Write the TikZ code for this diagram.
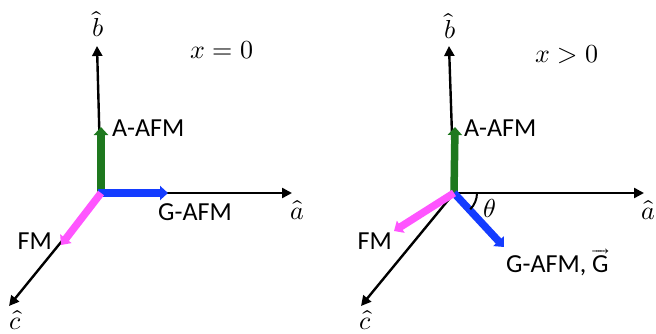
\documentclass[tikz,border=0pt]{standalone}
\usepackage{fontspec}
\usepackage{unicode-math}
\setmainfont{Carlito}
\setmathfont{Latin Modern Math}
\usetikzlibrary{arrows.meta}
\definecolor{agreen}{RGB}{30,120,30}
\definecolor{gblue}{RGB}{20,60,255}
\definecolor{fmpink}{RGB}{255,85,255}
\tikzset{
  axis/.style={line width=2.4pt,-{Triangle[length=10pt,width=10pt]}},
  spin/.style={line width=7.5pt,-{Triangle[length=8pt,width=14pt]}},
  lab/.style={font=\fontsize{26}{30}\selectfont,inner sep=0pt},
  mlab/.style={font=\fontsize{26}{30}\selectfont,inner sep=0pt}
}
\begin{document}
\begin{tikzpicture}[x=1pt,y=-1pt]
\useasboundingbox (0,0) rectangle (656,333);
% ---------- left panel ----------
\coordinate (O1) at (101,193);
\coordinate (b1) at (97,46);
\coordinate (a1) at (292,193);
\coordinate (c1) at (9,306);
\coordinate (g1) at (101,127);
\coordinate (G1) at (168,193);
\coordinate (f1) at (61,245);
\draw[axis] (O1) -- (b1);
\draw[axis] (O1) -- (a1);
\draw[axis] (O1) -- (c1);
\draw[spin,agreen] (O1) -- (g1);
\draw[spin,gblue] ([xshift=-3.5pt]O1) -- (G1);
\draw[spin,fmpink] (O1) -- (f1);
\node[mlab] (bh1) at (98,24) {$\hat{b}$};
\node[mlab] (ah1) at (297,210) {$\hat{a}$};
\node[mlab] (ch1) at (15,320) {$\hat{c}$};
\node[mlab] (x1) at (222,50) {$x=0$};
\node[lab,anchor=west] (AA1) at (112,128) {A-AFM};
\node[lab,anchor=west] (GA1) at (158,212) {G-AFM};
\node[lab,anchor=east] (FM1) at (52,241) {FM};
% ---------- right panel ----------
\coordinate (O2) at (454,193);
\coordinate (b2) at (449,46);
\coordinate (a2) at (644,193);
\coordinate (c2) at (361,306);
\coordinate (g2) at (455,127);
\coordinate (G2) at (504,247);
\coordinate (f2) at (394,231);
\draw[axis] (O2) -- (b2);
\draw[axis] (O2) -- (a2);
\draw[axis] (O2) -- (c2);
\draw[spin,agreen] (O2) -- (g2);
\draw[spin,gblue] (O2) -- (G2);
\draw[spin,fmpink] (O2) -- (f2);
\draw[line width=2pt] ([xshift=23pt]O2) arc[start angle=0,end angle=-45,radius=23pt];
\node[mlab] (th2) at (490,208) {$\theta$};
\node[mlab] (bh2) at (450,26) {$\hat{b}$};
\node[mlab] (ah2) at (648,210) {$\hat{a}$};
\node[mlab] (ch2) at (365,320) {$\hat{c}$};
\node[mlab] (x2) at (567,55) {$x>0$};
\node[lab,anchor=west] (AA2) at (464,128) {A-AFM};
\node[lab,anchor=west] (GA2) at (506,262) {G-AFM, $\overrightarrow{\hbox{G}}$};
\node[lab,anchor=east] (FM2) at (392,241) {FM};
\end{tikzpicture}
\end{document}
